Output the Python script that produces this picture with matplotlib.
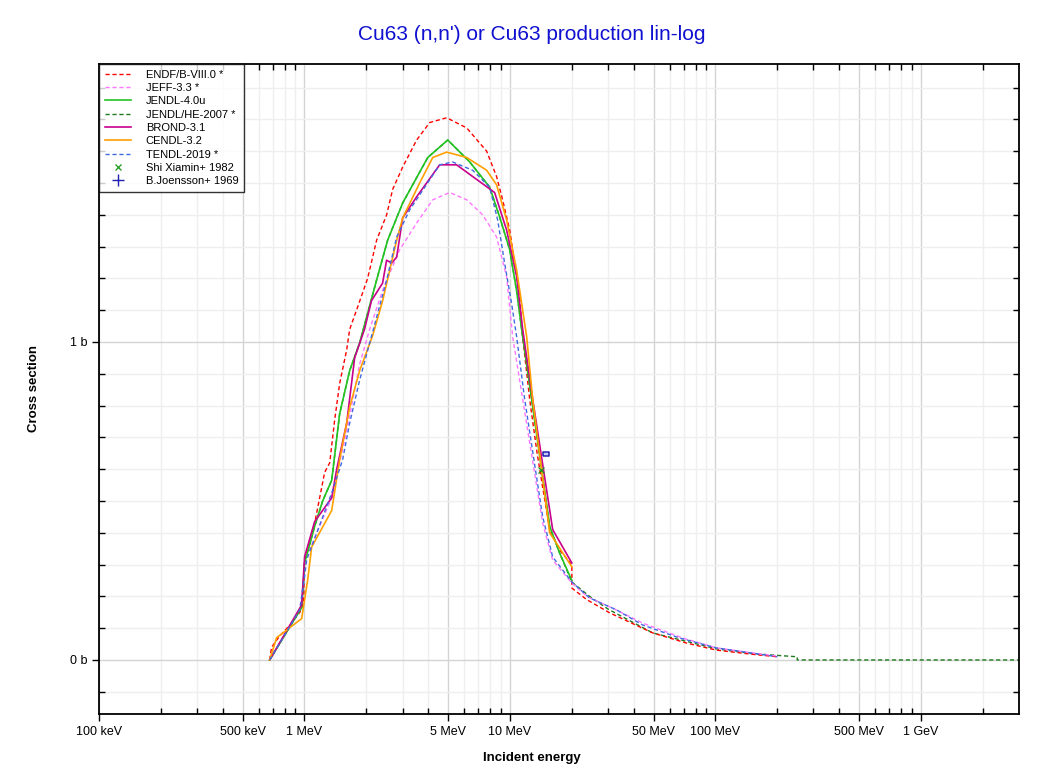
import matplotlib
matplotlib.use("Agg")
import matplotlib.pyplot as plt
import numpy as np
from matplotlib.ticker import FixedLocator, NullFormatter

plt.rcParams['font.family'] = ['Liberation Sans', 'DejaVu Sans']

# data (energy in MeV, cross section in barns)
endf_e = [0.677, 0.692, 0.757, 0.85, 0.95, 0.991, 1.0, 1.121, 1.254, 1.327, 1.403, 1.484, 1.605, 1.66, 1.815,
          2.03, 2.245, 2.512, 2.687, 3.006, 3.516, 4.07, 4.92, 6.16, 7.70, 8.61, 9.21, 9.97, 10.54, 11.15, 11.53,
          12.47, 13.49, 13.95, 15.6, 17.45, 20.0, 20.01, 23.6, 30.6, 49.5, 72.4, 101, 150, 200]
endf_xs = [0.0, 0.04, 0.075, 0.11, 0.15, 0.18, 0.31, 0.43, 0.59, 0.62, 0.755, 0.87, 0.975, 1.04, 1.11,
           1.20, 1.32, 1.40, 1.48, 1.55, 1.635, 1.69, 1.705, 1.673, 1.60, 1.52, 1.447, 1.352, 1.248, 1.14, 1.016,
           0.82, 0.66, 0.60, 0.41, 0.345, 0.30, 0.226, 0.19, 0.148, 0.085, 0.053, 0.031, 0.018, 0.01]

jeff_e = [0.677, 0.95, 1.025, 1.357, 1.605, 1.856, 2.077, 2.402, 2.906, 3.516, 4.21, 5.09, 6.16, 7.36, 8.61,
          9.63, 10.31, 11.53, 14.43, 16.14, 20.0, 23.9, 31.6, 44.2, 69.2, 101, 200]
jeff_xs = [0.0, 0.16, 0.325, 0.51, 0.72, 0.93, 1.04, 1.163, 1.29, 1.374, 1.447, 1.47, 1.447, 1.40, 1.33,
           1.205, 1.016, 0.82, 0.43, 0.314, 0.242, 0.198, 0.163, 0.116, 0.069, 0.038, 0.012]

jendl_e = [0.677, 0.969, 1.002, 1.121, 1.226, 1.357, 1.484, 1.66, 1.856, 2.245, 2.54, 3.006, 3.98, 4.98, 6.37,
           7.96, 8.91, 9.97, 10.78, 11.40, 12.75, 15.6, 17.45, 20.0]
jendl_xs = [0.0, 0.165, 0.305, 0.42, 0.50, 0.565, 0.775, 0.91, 0.997, 1.195, 1.32, 1.437, 1.58, 1.635, 1.566,
            1.487, 1.393, 1.29, 1.16, 1.04, 0.82, 0.42, 0.336, 0.25]

jendlhe_e = [0.677, 0.969, 1.002, 1.121, 1.226, 1.357, 1.484, 1.66, 1.856, 2.245, 2.54, 3.006, 3.98, 4.98, 6.37,
             7.96, 8.91, 9.97, 10.78, 11.40, 12.75, 15.6, 17.45, 20.0, 24.4, 30.0, 49.5, 101, 150, 250, 250.1, 3000]
jendlhe_xs = [0.0, 0.165, 0.305, 0.42, 0.50, 0.565, 0.775, 0.91, 0.997, 1.195, 1.32, 1.437, 1.58, 1.635, 1.566,
              1.487, 1.393, 1.29, 1.16, 1.04, 0.82, 0.42, 0.336, 0.245, 0.20, 0.16, 0.085, 0.035, 0.02, 0.01, 0.0, 0.0]

brond_e = [0.677, 0.969, 1.002, 1.121, 1.357, 1.435, 1.605, 1.755, 1.96, 2.12, 2.40, 2.51, 2.66, 2.81, 3.006,
           3.52, 4.55, 5.50, 8.42, 9.63, 10.78, 11.53, 12.9, 16.14, 20.0]
brond_xs = [0.0, 0.173, 0.325, 0.435, 0.51, 0.60, 0.745, 0.95, 1.04, 1.13, 1.185, 1.257, 1.248, 1.267, 1.39,
            1.457, 1.557, 1.557, 1.47, 1.352, 1.205, 1.04, 0.82, 0.41, 0.305]

cendl_e = [0.677, 0.732, 0.969, 1.036, 1.084, 1.357, 1.484, 1.66, 1.856, 2.147, 2.402, 2.81, 3.006, 3.636, 4.21,
           4.92, 6.16, 7.70, 8.61, 9.63, 10.78, 12.06, 12.9, 15.6, 20.0]
cendl_xs = [0.0, 0.07, 0.13, 0.25, 0.355, 0.47, 0.63, 0.795, 0.91, 1.02, 1.13, 1.32, 1.39, 1.50, 1.58,
            1.597, 1.58, 1.54, 1.494, 1.384, 1.226, 1.016, 0.82, 0.40, 0.293]

tendl_e = [0.677, 0.948, 0.991, 1.025, 1.357, 1.534, 1.66, 1.856, 2.077, 2.512, 2.81, 3.25, 4.07, 4.55, 5.26,
           6.58, 7.96, 8.71, 9.42, 10.19, 10.78, 11.79, 14.43, 16.14, 20.0, 24.4, 33.1, 44.2, 66.9, 101, 200]
tendl_xs = [0.0, 0.157, 0.24, 0.315, 0.525, 0.63, 0.745, 0.88, 0.997, 1.195, 1.33, 1.415, 1.51, 1.557, 1.566,
            1.54, 1.487, 1.384, 1.248, 1.12, 1.016, 0.82, 0.45, 0.324, 0.245, 0.195, 0.157, 0.11, 0.069, 0.038, 0.01]

shi_e = [14.2]
shi_xs = [0.597]
joensson_e = [15.0]
joensson_xs = [0.647]

xtick_vals = [0.1, 0.5, 1, 5, 10, 50, 100, 500, 1000]
xtick_labels = ['100 keV', '500 keV', '1 MeV', '5 MeV', '10 MeV', '50 MeV', '100 MeV', '500 MeV', '1 GeV']

# plot
fig = plt.figure(figsize=(10.63, 7.74), dpi=100)
ax = fig.add_axes([0.0931, 0.0775, 0.8655, 0.8398])

dash = (0, (3, 2))
ax.plot(endf_e, endf_xs, color='#ff0000', ls=dash, lw=1.0, label='ENDF/B-VIII.0 *', zorder=3)
ax.plot(jeff_e, jeff_xs, color='#ff77ff', ls=dash, lw=1.0, label='JEFF-3.3 *', zorder=3)
ax.plot(jendl_e, jendl_xs, color='#22c422', lw=1.2, label='JENDL-4.0u', zorder=4)
ax.plot(jendlhe_e, jendlhe_xs, color='#1e7a1e', ls=dash, lw=1.0, label='JENDL/HE-2007 *', zorder=2)
ax.plot(brond_e, brond_xs, color='#c8008c', lw=1.2, label='BROND-3.1', zorder=4)
ax.plot(cendl_e, cendl_xs, color='#ffa000', lw=1.2, label='CENDL-3.2', zorder=4)
ax.plot(tendl_e, tendl_xs, color='#4169e1', ls=dash, lw=1.0, label='TENDL-2019 *', zorder=4)
ax.plot(shi_e, shi_xs, ls='none', marker='x', ms=5, mew=0.9, color='#1a9a1a', label='Shi Xiamin+ 1982', zorder=5)
box = [(-1.6, -1), (1.6, -1), (1.6, 1), (-1.6, 1), (-1.6, -1)]
ax.plot(joensson_e, joensson_xs, ls='none', marker=box, ms=4, mew=1.1, mfc='#c8c8f0', mec='#2020b0', zorder=5)
ax.plot([], [], ls='none', marker='+', ms=9, mew=1.0, color='#2020b0', label='B.Joensson+ 1969')

ax.set_xscale('log')
ax.set_xlim(0.1, 3000)
ax.set_ylim(-0.17, 1.874)

ax.xaxis.set_major_locator(FixedLocator(xtick_vals))
ax.set_xticklabels(xtick_labels)
minors = [m * 10.0 ** d for d in range(-1, 4) for m in range(2, 10)]
minors = [v for v in minors if v not in xtick_vals and v < 3000]
ax.xaxis.set_minor_locator(FixedLocator(minors))
ax.xaxis.set_minor_formatter(NullFormatter())

ax.set_yticks([0, 1])
ax.set_yticklabels(['0 b', '1 b'])
ax.yaxis.set_minor_locator(FixedLocator([v / 10 for v in range(-1, 19) if v % 10 != 0]))

ax.grid(True, which='major', color='#d4d4d4', lw=1.0)
ax.grid(True, which='minor', color='#efefef', lw=1.0)
ax.set_axisbelow(True)

ax.tick_params(which='major', direction='out', length=5, width=1, labelsize=9, top=False, right=False)
ax.tick_params(which='minor', direction='in', length=4, width=1, top=True, right=True)
for s in ax.spines.values():
    s.set_linewidth(1.3)

fig.text(0.5, 1 - 35 / 774, "Cu63 (n,n') or Cu63 production lin-log", ha='center', va='center',
         fontsize=15, color='#1010d0')
fig.text(0.5, 1 - 758 / 774, 'Incident energy', ha='center', va='center', fontsize=9.5, fontweight='bold')
fig.text(34 / 1063, 1 - 389 / 774, 'Cross section', ha='center', va='center', rotation=90,
         fontsize=9.5, fontweight='bold')

leg = ax.legend(loc='upper left', fontsize=8, frameon=True, fancybox=False, borderaxespad=0,
                handlelength=2.4, labelspacing=0.3, borderpad=0.5, handletextpad=1.3)
leg.get_frame().set_edgecolor('black')
leg.get_frame().set_linewidth(1.0)
leg.set_zorder(10)

fig.savefig('out.png', dpi=100)
